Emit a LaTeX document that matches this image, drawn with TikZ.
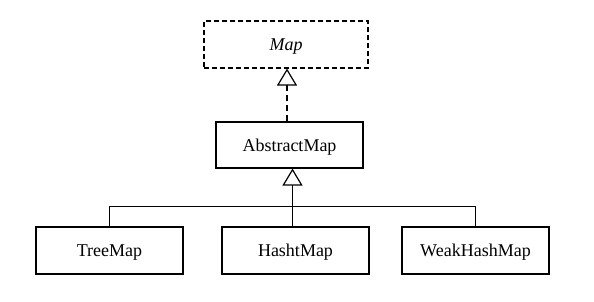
\documentclass[tikz,border=0pt]{standalone}
\usepackage{fontspec}
\setmainfont{Liberation Serif}
\usetikzlibrary{arrows.meta}

\tikzset{
  cls/.style={draw, line width=1.1pt, minimum width=147pt, minimum height=47pt, inner sep=0pt, text depth=0pt, font=\fontsize{18}{22}\selectfont},
  inherit/.style={line width=1.2pt, -{Triangle[open, width=20pt, length=17pt, line width=1.2pt]}}
}

\begin{document}
\begin{tikzpicture}[x=1pt, y=-1pt]
\useasboundingbox (0, 0) rectangle (594, 301);
\node at (286, 44.5) [name=map, cls, dash pattern=on 5pt off 3pt, minimum width=164pt] {\itshape Map};
\node at (289.5, 145) [name=abstract, cls, minimum height=46pt] {AbstractMap};
\node at (109.5, 250.5) [name=tree, cls] {TreeMap};
\node at (295.5, 250.5) [name=hasht, cls] {HashtMap};
\node at (475.5, 250.5) [name=weak, cls] {WeakHashMap};
\coordinate (D) at (287, 0);
\coordinate (J) at (292.5, 206.5);
% interface
\draw [inherit, line width=1.8pt, dash pattern=on 6pt off 4pt] (abstract.north -| D) -- (map.south -| D);
% subclasses
\draw [line width=1.2pt] (tree.north) |- (J) -| (weak.north);
\draw [inherit] (hasht.north -| J) -- (abstract.south -| J);
\end{tikzpicture}
\end{document}
